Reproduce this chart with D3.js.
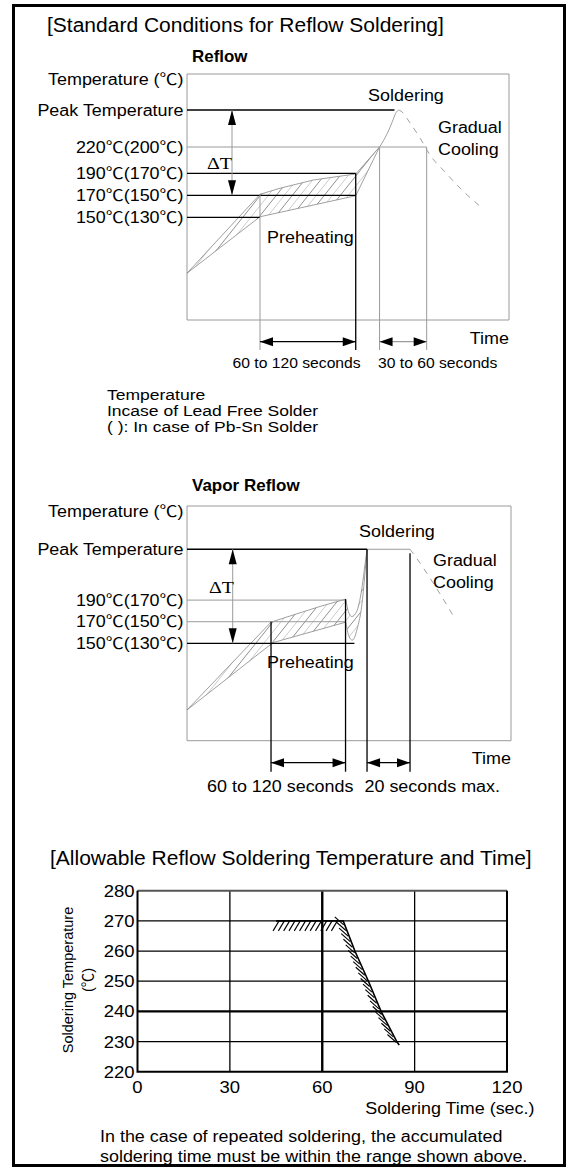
<!DOCTYPE html>
<html>
<head>
<meta charset="utf-8">
<script src="https://cdn.jsdelivr.net/npm/d3@7"></script>
<style>
  body { margin: 0; background: #fff; }
  text { font-family: "Liberation Sans", Arial, "Noto Sans CJK JP", sans-serif; fill: #000; }
  .serif { font-family: "Liberation Serif", "DejaVu Serif", serif; }
  .cjk { font-family: "Noto Sans CJK JP", sans-serif; }
</style>
</head>
<body>
<div id="chart"></div>
<script>
// ---------------- data ----------------
// Reflow profile (schematic time in s, temperature in degC, lead free values)
const reflowLevelLabels = ['Peak Temperature', '220℃(200℃)', '190℃(170℃)', '170℃(150℃)', '150℃(130℃)'];
const reflowLevelTemps = [250, 220, 190, 170, 150];
const reflowLevelEnds = [193.3, 223.3, 157.2, 157.2, 68];
const reflowUpper = [[0, 101], [68, 170.9], [86.6, 176.4], [117.7, 183.9], [157.2, 189.4], [179.4, 220]];
const reflowLower = [[0, 101], [68, 150.5], [157.2, 169.6], [179.4, 220]];
const reflowRise = [[179.4, 220], [186.6, 231], [191.3, 240.5], [194.4, 247.3], [196.9, 250]];
const reflowCooling = [[196.9, 250], [199.5, 249], [207.8, 239.5], [217.1, 227.3], [226.4, 210.9], [240.4, 191.5], [256.2, 174.8], [274.9, 158.5]];
const reflowMarkTimes = [68, 157.2, 179.4, 223.3];
const reflowMarkTemps = [170.9, 190, 220, 220];
const reflowSpans = [[68, 157.2], [179.4, 223.3]];
const reflowSpanLabels = ['60 to 120 seconds', '30 to 60 seconds'];
const reflowDelta = [250, 170];

// Vapor reflow profile
const vaporLevelLabels = ['Peak Temperature', '190℃(170℃)', '170℃(150℃)', '150℃(130℃)'];
const vaporLevelTemps = [237, 190, 170, 150];
const vaporLevelEnds = [166.7, 146.8, 146.8, 155];
const vaporUpper = [[0, 88.4], [77.8, 169.6], [101.6, 177.3], [123.1, 184.1], [147, 190.9]];
const vaporUpperRise = [[147, 190.9], [149.4, 179.4], [152.5, 174.8], [157.1, 179.4], [161.7, 199.5], [164.2, 218], [166.7, 237]];
const vaporLower = [[0, 88.4], [79.6, 150.7], [147, 169.6]];
const vaporLowerRise = [[147, 169.6], [150, 156.3], [153.1, 153], [158.1, 165.5], [161.7, 184], [164.8, 215], [166.7, 237]];
const vaporHold = [[166.7, 237], [206.5, 237]];
const vaporCooling = [[206.5, 237], [209.5, 233], [248.1, 173]];
const vaporMarkTimes = [77.8, 146.8, 166.7, 206.5];
const vaporMarkTemps = [170, 190.9, 237, 233.4];
const vaporSpans = [[77.8, 146.8], [166.7, 206.5]];
const vaporSpanLabels = ['60 to 120 seconds', '20 seconds max.'];
const vaporDelta = [237, 150];

// Allowable soldering temperature and time
const allowTimeTicks = [0, 30, 60, 90, 120];
const allowTempTicks = [220, 230, 240, 250, 260, 270, 280];
const allowLimit = [[45, 270], [66.8, 270], [70.6, 260], [75, 250], [79.1, 240], [84.2, 230], [85, 228.8]];

const noteLines = ['Temperature', 'Incase of Lead Free Solder', '( ): In case of Pb-Sn Solder'];
const bottomNotes = ['In the case of repeated soldering, the accumulated', 'soldering time must be within the range shown above.'];

// ---------------- drawing ----------------
const W = 570, H = 1170;
const K = 1.12; // the reference text is a bit wide
const GREY = '#9a9a9a';

const svg = d3.select('#chart').append('svg')
  .attr('width', W).attr('height', H);

// outer frame
svg.append('rect')
  .attr('x', 13.5).attr('y', 5.5).attr('width', 551).attr('height', 1160)
  .attr('fill', 'none').attr('stroke', '#000').attr('stroke-width', 3);

// text helper: draw and stretch horizontally, degree sign from the CJK font
function label(g, x, y, s, size, anchor = 'start', k = K) {
  const t = g.append('text')
    .attr('x', x).attr('y', y)
    .attr('font-size', size)
    .attr('text-anchor', anchor);
  if (s.includes('℃')) t.html(s.replace(/℃/g, '<tspan class="cjk">℃</tspan>'));
  else t.text(s);
  const w = t.node().getComputedTextLength();
  t.attr('textLength', w * k).attr('lengthAdjust', 'spacingAndGlyphs');
  return t;
}

function arrowH(g, x1, x2, y, shaft) {
  g.append('line').attr('x1', x1).attr('x2', x2).attr('y1', y).attr('y2', y)
    .attr('stroke', shaft).attr('stroke-width', 1.2);
  g.append('path').attr('d', `M${x1},${y}L${x1 + 13},${y - 4.5}L${x1 + 13},${y + 4.5}Z`);
  g.append('path').attr('d', `M${x2},${y}L${x2 - 13},${y - 4.5}L${x2 - 13},${y + 4.5}Z`);
}

function arrowV(g, x, y1, y2) {
  g.append('line').attr('x1', x).attr('x2', x).attr('y1', y1).attr('y2', y2)
    .attr('stroke', GREY).attr('stroke-width', 1);
  g.append('path').attr('d', `M${x},${y1}L${x - 4},${y1 + 15}L${x + 4},${y1 + 15}Z`);
  g.append('path').attr('d', `M${x},${y2}L${x - 4},${y2 - 15}L${x + 4},${y2 - 15}Z`);
}

// hatch a polygon (pixel points) with thin diagonal lines
function hatch(g, id, pts, spacing, slope) {
  g.append('clipPath').attr('id', id)
    .append('path').attr('d', d3.line()(pts) + 'Z');
  const xs = d3.extent(pts, p => p[0]), ys = d3.extent(pts, p => p[1]);
  const run = (ys[1] - ys[0]) / slope;
  const starts = d3.range(xs[0] - run, xs[1] + spacing, spacing);
  g.append('g').attr('clip-path', `url(#${id})`)
    .selectAll('line').data(starts).join('line')
    .attr('x1', d => d).attr('y1', ys[1])
    .attr('x2', d => d + run).attr('y2', ys[0])
    .attr('stroke', (d, i) => i % 2 ? '#aaa' : '#444')
    .attr('stroke-width', 0.6);
}

// ---------- Section title ----------
label(svg, 47, 31.5, '[Standard Conditions for Reflow Soldering]', 20, 'start', 1.05);

// ---------- profile diagram ----------
function profile(c) {
  const g = svg.append('g');
  const x = c.x, y = c.y;
  const [t0, t1] = x.domain();
  const yd = y.domain();
  const T0 = yd[0], T1 = yd[yd.length - 1];
  const line = d3.line().x(d => x(d[0])).y(d => y(d[1]));

  // axes box
  g.append('path')
    .attr('d', `M${x(t0)},${y(T1)}H${x(t1)}V${y(T0)}H${x(t0)}Z`)
    .attr('fill', 'none').attr('stroke', GREY).attr('stroke-width', 1);

  label(g, c.titleX, c.titleY, c.title, 16.5, 'start', 1.1).attr('font-weight', 'bold');
  label(g, x(t0) - 3.5, y(T1) + 11, 'Temperature (℃)', 16, 'end');

  // hatched band between the profiles
  const band = c.upper.concat(c.upperRise || []).map(d => [x(d[0]), y(d[1])])
    .concat(c.lower.concat(c.lowerRise || []).slice().reverse().map(d => [x(d[0]), y(d[1])]));
  hatch(g, c.id, band, 8, 1.25);

  // profile lines
  g.append('path').attr('d', line(c.upper)).attr('fill', 'none').attr('stroke', '#888').attr('stroke-width', 0.8);
  g.append('path').attr('d', line(c.lower)).attr('fill', 'none').attr('stroke', '#888').attr('stroke-width', 0.8);
  const smooth = d3.line().x(d => x(d[0])).y(d => y(d[1])).curve(d3.curveMonotoneX);
  (c.rises || []).forEach(r => {
    g.append('path').attr('d', smooth(r)).attr('fill', 'none').attr('stroke', '#888').attr('stroke-width', 0.8);
  });
  if (c.hold) g.append('path').attr('d', line(c.hold)).attr('fill', 'none').attr('stroke', GREY).attr('stroke-width', 1);
  g.append('path').attr('d', smooth(c.cooling)).attr('fill', 'none')
    .attr('stroke', '#888').attr('stroke-width', 0.8).attr('stroke-dasharray', '6,6');

  // level lines + labels
  c.levels.forEach((T, i) => {
    g.append('line')
      .attr('x1', x(t0)).attr('x2', x(c.ends[i]))
      .attr('y1', y(T)).attr('y2', y(T))
      .attr('stroke', c.greyLevels.includes(T) ? GREY : '#000')
      .attr('stroke-width', c.greyLevels.includes(T) ? 1 : 1.3);
    label(g, x(t0) - 3.5, y(T) + 5.5, c.labels[i], 16, 'end');
  });

  // time markers
  c.markTimes.forEach((t, i) => {
    g.append('line')
      .attr('x1', x(t)).attr('x2', x(t))
      .attr('y1', y(c.markTemps[i])).attr('y2', y(T0) + c.ext)
      .attr('stroke', c.greyMarks.includes(i) ? GREY : '#000')
      .attr('stroke-width', c.greyMarks.includes(i) ? 1 : 1.3);
  });

  // span arrows + labels
  c.spans.forEach((s, i) => {
    arrowH(g, x(s[0]), x(s[1]), y(T0) + c.arrowDy, c.greyShaft.includes(i) ? GREY : '#000');
    label(g, c.spanX[i], y(T0) + c.spanDy, c.spanLabels[i], c.spanSize, 'start');
  });

  // delta T
  arrowV(g, c.deltaX, y(c.delta[0]), y(c.delta[1]));
  label(g, c.deltaTextX, c.deltaTextY, 'ΔT', 17, 'start', 1.15).attr('class', 'serif');

  label(g, c.solderX, c.solderY, 'Soldering', 16, 'middle');
  label(g, c.gradX, c.gradY, 'Gradual', 16, 'start');
  label(g, c.gradX, c.gradY + 21.5, 'Cooling', 16, 'start');
  label(g, 267, c.preY, 'Preheating', 16, 'start');
  label(g, x(t1), y(T0) + c.timeDy, 'Time', 16, 'end');
  return g;
}

profile({
  id: 'clipReflow',
  x: d3.scaleLinear().domain([0, 300]).range([187, 509]),
  y: d3.scaleLinear().domain([60, 150, 190, 220, 250, 282]).range([320, 217.3, 173.3, 147, 110, 74]),
  title: 'Reflow', titleX: 192, titleY: 61.5,
  levels: reflowLevelTemps, labels: reflowLevelLabels, ends: reflowLevelEnds, greyLevels: [220],
  upper: reflowUpper, lower: reflowLower, rises: [reflowRise], cooling: reflowCooling,
  markTimes: reflowMarkTimes, markTemps: reflowMarkTemps, greyMarks: [0, 2, 3], ext: 30,
  spans: reflowSpans, spanLabels: reflowSpanLabels, greyShaft: [1], arrowDy: 21.7,
  spanX: [232.5, 378], spanDy: 48, spanSize: 14,
  delta: reflowDelta, deltaX: 232, deltaTextX: 207, deltaTextY: 169,
  solderX: 406, solderY: 101, gradX: 438, gradY: 133, preY: 243, timeDy: 24
});

// notes under the reflow diagram
noteLines.forEach((s, i) => label(svg, 107, 400 + i * 15.8, s, 14, 'start', 1.25));

profile({
  id: 'clipVapor',
  x: d3.scaleLinear().domain([0, 300]).range([187, 511]),
  y: d3.scaleLinear().domain([60, 277]).range([740.7, 506]),
  title: 'Vapor Reflow', titleX: 192, titleY: 491,
  levels: vaporLevelTemps, labels: vaporLevelLabels, ends: vaporLevelEnds, greyLevels: [190, 170],
  upper: vaporUpper, lower: vaporLower, upperRise: vaporUpperRise, lowerRise: vaporLowerRise,
  rises: [vaporUpperRise, vaporLowerRise], hold: vaporHold, cooling: vaporCooling,
  markTimes: vaporMarkTimes, markTemps: vaporMarkTemps, greyMarks: [], ext: 31,
  spans: vaporSpans, spanLabels: vaporSpanLabels, greyShaft: [], arrowDy: 22,
  spanX: [207, 364.5], spanDy: 51, spanSize: 16,
  delta: vaporDelta, deltaX: 232.7, deltaTextX: 209, deltaTextY: 592.5,
  solderX: 397, solderY: 536.5, gradX: 433, gradY: 566, preY: 667.5, timeDy: 23.5
});

// ---------- Allowable soldering temperature and time ----------
label(svg, 50, 865, '[Allowable Reflow Soldering Temperature and Time]', 20, 'start', 1.05);

const ax = d3.scaleLinear().domain([0, 120]).range([137.5, 507]);
const ay = d3.scaleLinear().domain([220, 280]).range([1071.7, 890.7]);
const pg = svg.append('g');

// grid
pg.selectAll('.vgrid').data(allowTimeTicks.slice(1, -1)).join('line')
  .attr('x1', d => ax(d)).attr('x2', d => ax(d))
  .attr('y1', ay(280)).attr('y2', ay(220))
  .attr('stroke', '#000').attr('stroke-width', d => d === 60 ? 2.4 : 1.3);
pg.selectAll('.hgrid').data(allowTempTicks.slice(1, -1)).join('line')
  .attr('x1', ax(0)).attr('x2', ax(120))
  .attr('y1', d => ay(d)).attr('y2', d => ay(d))
  .attr('stroke', '#000').attr('stroke-width', d => d === 240 ? 2.4 : 1.3);

// frame
pg.append('line').attr('x1', ax(0)).attr('x2', ax(120)).attr('y1', ay(280)).attr('y2', ay(280))
  .attr('stroke', '#555').attr('stroke-width', 2);
pg.append('path')
  .attr('d', `M${ax(0)},${ay(280)}V${ay(220)}H${ax(120)}V${ay(280)}`)
  .attr('fill', 'none').attr('stroke', '#000').attr('stroke-width', 2);

// tick labels
allowTempTicks.forEach(v => label(pg, ax(0) - 3, ay(v) + 6, String(v), 16.5, 'end'));
allowTimeTicks.forEach(v => label(pg, ax(v), ay(220) + 21.5, String(v), 16.5, 'middle'));
label(pg, 534.5, 1114, 'Soldering Time (sec.)', 16, 'end');

// rotated y title (no horizontal stretch)
pg.append('text').attr('transform', 'translate(73,980) rotate(-90)')
  .attr('text-anchor', 'middle').attr('font-size', 14.5).text('Soldering Temperature');
pg.append('text').attr('transform', 'translate(93,980) rotate(-90)')
  .attr('text-anchor', 'middle').attr('font-size', 14.5)
  .html('(<tspan class="cjk">℃</tspan>)');

// limit line with hatch strokes
const lim = allowLimit.map(d => [ax(d[0]), ay(d[1])]);
pg.append('path').attr('d', d3.line()(lim)).attr('fill', 'none').attr('stroke', '#000').attr('stroke-width', 1.6);
const strokes = [];
for (let px = lim[0][0] + 3; px < lim[1][0] - 1; px += 5.3) {
  strokes.push([px, lim[0][1], px - 6, lim[0][1] + 10]);
}
for (let py = lim[1][1] + 4; py < lim[lim.length - 1][1] - 1; py += 5.6) {
  let i = 1;
  while (i < lim.length - 2 && lim[i + 1][1] < py) i++;
  const f = (py - lim[i][1]) / (lim[i + 1][1] - lim[i][1]);
  const px = lim[i][0] + f * (lim[i + 1][0] - lim[i][0]);
  strokes.push([px - 1, py, px - 10, py - 8]);
}
pg.selectAll('.hs').data(strokes).join('line')
  .attr('x1', d => d[0]).attr('y1', d => d[1]).attr('x2', d => d[2]).attr('y2', d => d[3])
  .attr('stroke', '#000').attr('stroke-width', 1.1);

bottomNotes.forEach((s, i) => label(svg, 100, 1142 + i * 20, s, 16, 'start'));
</script>
</body>
</html>
